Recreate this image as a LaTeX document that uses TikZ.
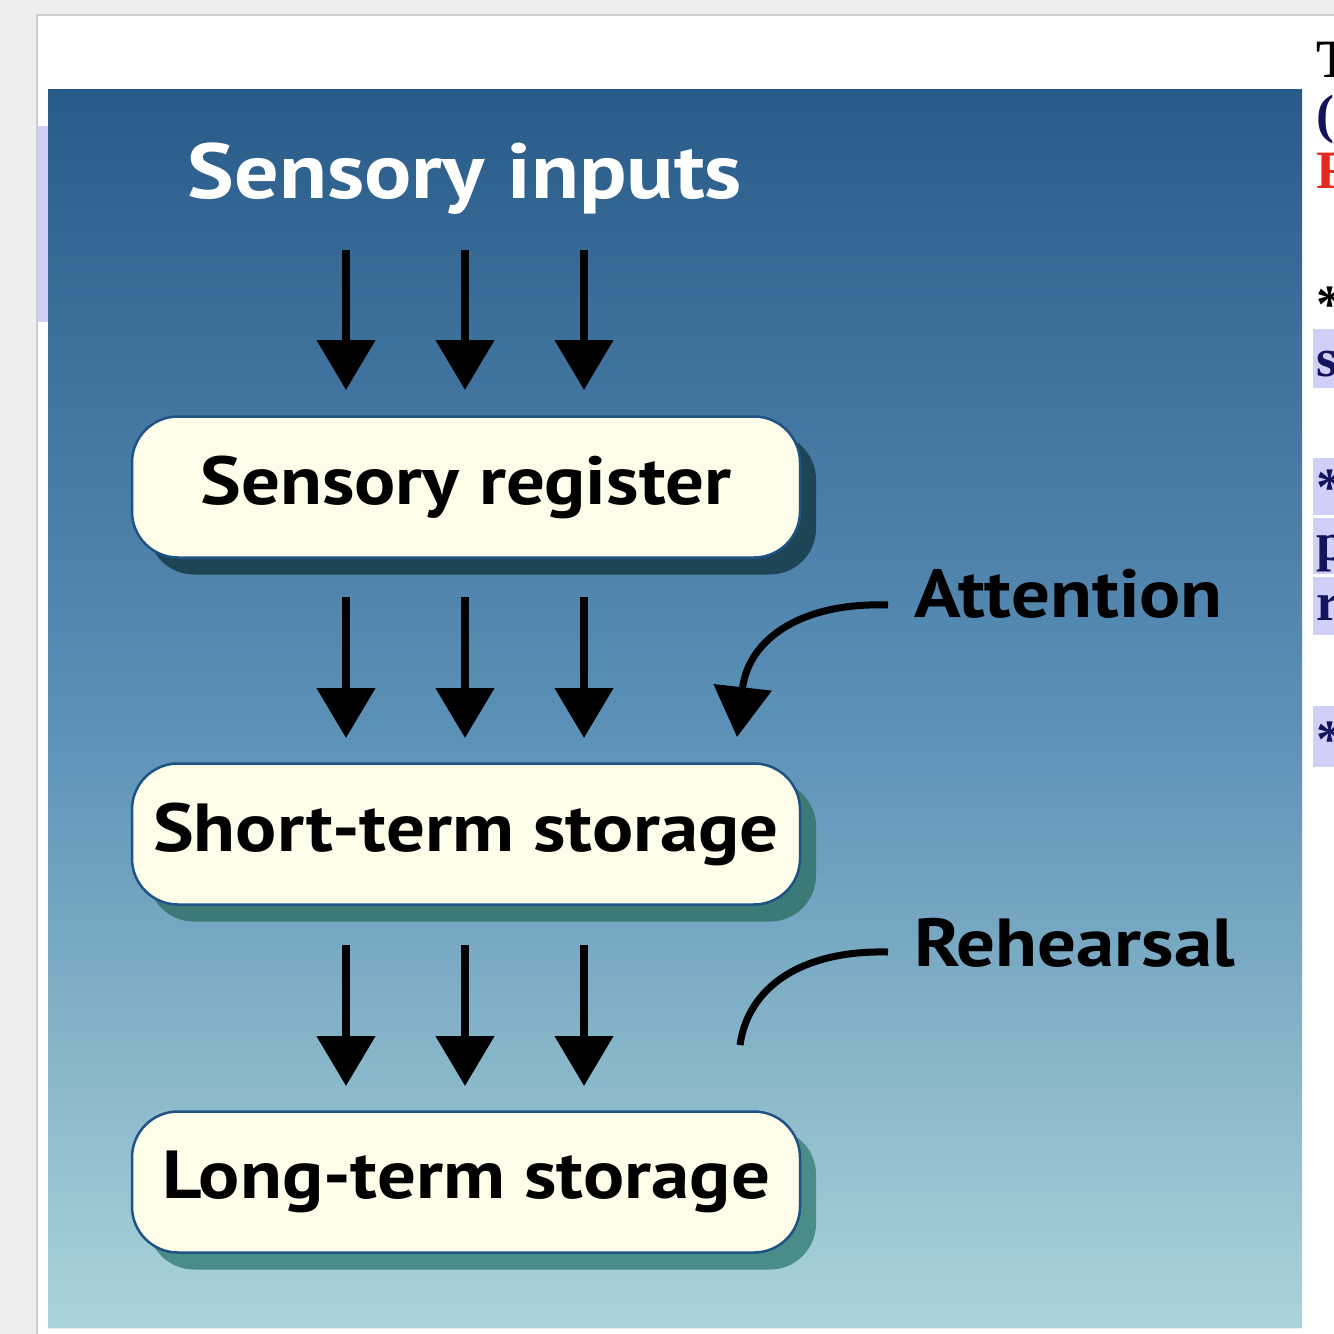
\documentclass[tikz,border=0pt]{standalone}
\usepackage{graphicx}
\usepackage{fontspec}
\setmainfont{PT Sans}
\newfontfamily\timesb{Liberation Serif}
\usetikzlibrary{arrows.meta,shadows}
\definecolor{pagegray}{HTML}{EEEEEE}
\definecolor{pageedge}{HTML}{C9CDD2}
\definecolor{lav}{HTML}{CFCFF8}
\definecolor{paneltop}{HTML}{295B89}
\definecolor{panelmid}{HTML}{5A8FB6}
\definecolor{panelbot}{HTML}{AAD4D9}
\definecolor{cream}{HTML}{FDFDE9}
\definecolor{boxedge}{HTML}{1F5385}
\definecolor{shA}{HTML}{1E4556}
\definecolor{shB}{HTML}{3C7A78}
\definecolor{shC}{HTML}{4A8C88}
\definecolor{navy}{HTML}{14145E}
\definecolor{fragred}{HTML}{E8281E}
\newcommand{\wide}[1]{\scalebox{1.13}[1]{#1}}
\begin{document}
\begin{tikzpicture}[x=1pt,y=-1pt,
  stagebox/.style={draw=boxedge, line width=2.5pt, fill=cream, rounded corners=46pt,
    minimum width=668pt, minimum height=141pt, inner sep=0pt,
    font=\fontsize{68}{72}\selectfont\bfseries, text=black},
  flow/.style={line width=8pt, -{Triangle[length=50pt,width=57pt]}},
  sidelabel/.style={anchor=base west, inner sep=0pt, font=\fontsize{68}{72}\selectfont\bfseries, text=black},
  curveline/.style={line width=7pt},
  frag/.style={anchor=base west, inner sep=0pt, font=\fontsize{54}{60}\selectfont\timesb\bfseries},
  fragbg/.style={fill=lav, draw=none}
]
\useasboundingbox (0,0) rectangle (1334,1334);
\begin{scope}
\clip (0,0) rectangle (1334,1334);
% page
\fill[pagegray] (0,0) rectangle (1334,1334);
\fill[white] (37,15) rectangle (1340,1340);
\draw[pageedge, line width=1.5pt] (37,1340) -- (37,15) -- (1340,15);
\fill[lav] (37.8,126) rectangle (48,322);
% panel
\shade[top color=paneltop, bottom color=panelbot, middle color=panelmid] (48,89) rectangle (1302,1328);
\draw[white!85!gray, line width=1pt] (48,1328.5) -- (1302,1328.5);

% title
\node[anchor=base, inner sep=0pt, text=white, font=\fontsize{78}{82}\selectfont\bfseries] (title) at (465,198) {\wide{Sensory inputs}};

% boxes
\node[stagebox, drop shadow={shadow xshift=16pt, shadow yshift=-17pt, fill=shA, opacity=1}] (reg) at (466,487) {\wide{Sensory register}};
\node[stagebox, drop shadow={shadow xshift=16pt, shadow yshift=-17pt, fill=shB, opacity=1}] (sts) at (466,834) {\wide{Short-term storage}};
\node[stagebox, drop shadow={shadow xshift=16pt, shadow yshift=-17pt, fill=shC, opacity=1}] (lts) at (466,1182) {\wide{Long-term storage}};

% arrow end points
\foreach \i/\x in {1/346,2/465,3/584}{
  \coordinate (s1\i) at (\x,250); \coordinate (e1\i) at (\x,390);
  \coordinate (s2\i) at (\x,597); \coordinate (e2\i) at (\x,738);
  \coordinate (s3\i) at (\x,945); \coordinate (e3\i) at (\x,1086);
}
\foreach \r in {1,2,3}{
  \foreach \i in {1,2,3}{
    \draw[flow] (s\r\i) -- (e\r\i);
  }
}

% side labels
\node[sidelabel] (att) at (914,617) {\wide{Attention}};
\node[sidelabel] (reh) at (914,966) {\wide{Rehearsal}};
\coordinate (attS) at (888,605);
\coordinate (attE) at (737,737);
\coordinate (rehS) at (888,952);
\coordinate (rehE) at (740,1045);
\draw[curveline, -{Triangle[length=50pt,width=57pt]}] (attS) .. controls (800,602) and (748,640) .. (attE);
\draw[curveline] (rehS) .. controls (800,950) and (748,988) .. (rehE);

% cut-off text at the right edge
\node[frag, text=black] (f1) at (1316,77) {T};
\node[frag, text=navy] (f2) at (1316,132) {(A};
\node[frag, text=fragred] (f3) at (1316,188) {F};
\node[frag, text=black] (f4) at (1316,322) {*};
\fill[fragbg] (1313,329) rectangle (1340,388);
\node[frag, text=navy] (f5) at (1316,376) {s};
\fill[fragbg] (1313,458) rectangle (1340,515);
\fill[fragbg] (1313,518) rectangle (1340,574);
\fill[fragbg] (1313,577) rectangle (1340,635);
\node[frag, text=navy] (f6) at (1316,505) {*};
\node[frag, text=navy] (f7) at (1316,560) {p};
\node[frag, text=navy] (f8) at (1316,620) {r};
\fill[fragbg] (1313,706) rectangle (1340,767);
\node[frag, text=navy] (f9) at (1316,757) {*};
\end{scope}
\end{tikzpicture}
\end{document}
